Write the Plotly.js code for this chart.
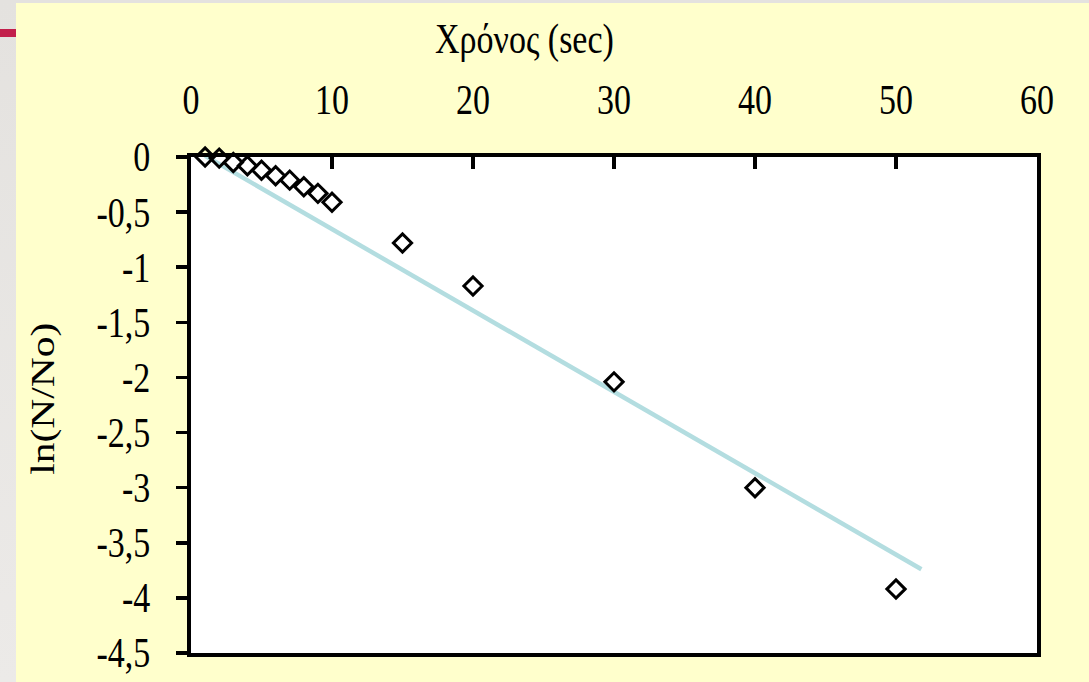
<!DOCTYPE html>
<html>
<head>
<meta charset="utf-8">
<script src="https://cdn.plot.ly/plotly-3.0.1.min.js"></script>
<style>
  html, body { margin: 0; padding: 0; width: 1089px; height: 682px; overflow: hidden; }
  body { background: linear-gradient(180deg, #E4E2DF 0%, #ECEAE8 100%); position: relative; }
  #accent { position: absolute; left: 0; top: 29px; width: 16px; height: 8px; background: #C21F4B; }
  #chart { position: absolute; left: 16px; top: 3px; width: 1073px; height: 679px; }
</style>
</head>
<body>
<div id="accent"></div>
<div id="chart"></div>
<script>
// Measured decay: time in seconds and ln(N/No)
const timeSec = [1, 2, 3, 4, 5, 6, 7, 8, 9, 10, 15, 20, 30, 40, 50];
const lnRatio = [0, -0.01, -0.05, -0.08, -0.12, -0.17, -0.21, -0.27, -0.33, -0.41, -0.78, -1.17, -2.04, -3.0, -3.92];

// Linear trend line end points
const trendX = [1, 51.8];
const trendY = [0.01, -3.74];

// Axis ticks
const xTickVals = [0, 10, 20, 30, 40, 50, 60];
const yTickVals = [0, -0.5, -1, -1.5, -2, -2.5, -3, -3.5, -4, -4.5];
const yTickText = ['0', '-0,5', '-1', '-1,5', '-2', '-2,5', '-3', '-3,5', '-4', '-4,5'];

const serif = 'Liberation Serif, Times New Roman, serif';

const traces = [
  {
    x: trendX, y: trendY, type: 'scatter', mode: 'lines',
    line: { color: '#B3DDE0', width: 4.5 },
    hoverinfo: 'skip', cliponaxis: false
  },
  {
    x: timeSec, y: lnRatio, type: 'scatter', mode: 'markers',
    marker: { symbol: 'diamond-open', size: 14, color: '#000000', line: { color: '#000000', width: 3 } },
    cliponaxis: false
  }
];

const layout = {
  width: 1073, height: 679,
  margin: { l: 175, r: 52, t: 154, b: 29 },
  paper_bgcolor: '#FFFFCC',
  plot_bgcolor: '#FFFFFF',
  showlegend: false,
  separators: ', ',
  font: { family: serif, size: 34, color: '#000000' },
  xaxis: {
    side: 'top', range: [0, 60], tickvals: xTickVals,
    ticks: 'inside', ticklen: 12, tickwidth: 3.5, tickcolor: '#000000',
    showline: true, linecolor: '#000000', linewidth: 4, mirror: true,
    showgrid: false, zeroline: false,
    ticklabelstandoff: 28,
    tickfont: { family: serif, size: 34, color: '#000000' }
  },
  yaxis: {
    range: [-4.5, 0], tickvals: yTickVals, ticktext: yTickText,
    ticks: 'outside', ticklen: 11, tickwidth: 3.5, tickcolor: '#000000',
    showline: true, linecolor: '#000000', linewidth: 4, mirror: true,
    showgrid: false, zeroline: false,
    ticklabelstandoff: 19,
    tickfont: { family: serif, size: 34, color: '#000000' }
  },
  annotations: [
    {
      text: 'Χρόνος (sec)', xref: 'paper', yref: 'paper',
      x: 0.286, y: 1.236, xanchor: 'left', yanchor: 'middle',
      showarrow: false, font: { family: serif, size: 34, color: '#000000' }
    },
    {
      text: 'ln(N/No)', xref: 'paper', yref: 'paper',
      x: -0.175, y: 0.514, xanchor: 'center', yanchor: 'middle',
      textangle: -90, showarrow: false,
      font: { family: serif, size: 34, color: '#000000' }
    }
  ]
};

// Tall serif lettering: stretch each label along the page's vertical direction
const TEXT_STRETCH = 1.22;

function stretchText(el, sx, sy) {
  const box = el.getBBox();
  const cx = box.x + box.width / 2;
  const cy = box.y + box.height / 2;
  const prev = el.getAttribute('transform') || '';
  el.setAttribute('transform',
    prev + ' translate(' + cx + ',' + cy + ') scale(' + sx + ',' + sy + ') translate(' + (-cx) + ',' + (-cy) + ')');
}

Plotly.newPlot('chart', traces, layout, { displayModeBar: false, staticPlot: true }).then(function (gd) {
  gd.querySelectorAll('.xtick text, .ytick text').forEach(function (el) {
    stretchText(el, 1, TEXT_STRETCH);
  });
  const notes = gd.querySelectorAll('.annotation');
  notes.forEach(function (g, i) {
    const t = g.querySelector('.annotation-text');
    if (!t) return;
    // the rotated axis label runs vertically, so stretch it along its own length
    if (i === 1) stretchText(t, TEXT_STRETCH, 1);
    else stretchText(t, 1, TEXT_STRETCH);
  });
});
</script>
</body>
</html>
